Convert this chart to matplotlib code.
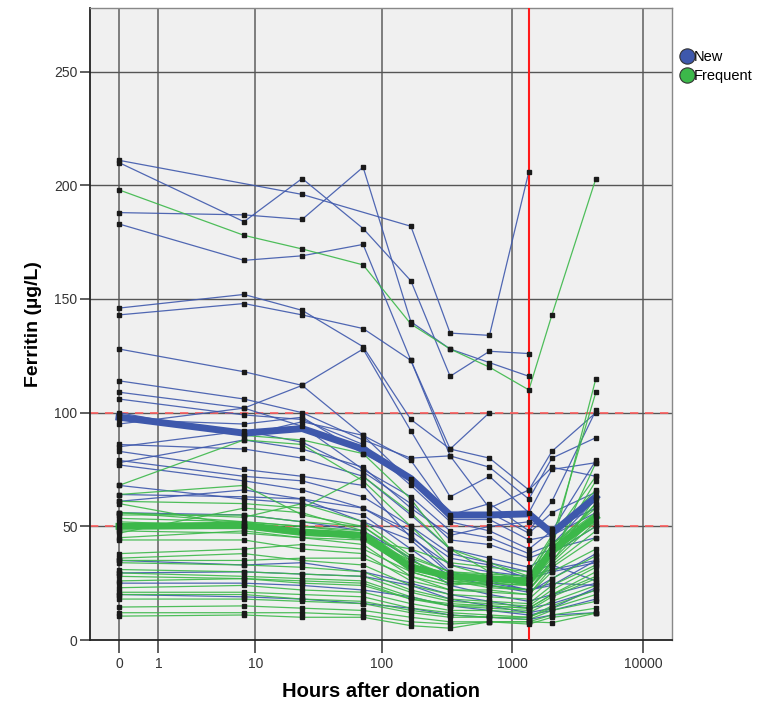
import numpy as np
import matplotlib
matplotlib.use('Agg')
import matplotlib.pyplot as plt
from matplotlib.lines import Line2D

plt.rcParams['font.family'] = ['Liberation Sans', 'DejaVu Sans']

# sampling times (hours after donation)
hours = [0, 8, 24, 72, 168, 336, 672, 1344, 2016, 4368]
nan = np.nan

# new donors (blue), one row per donor
new_donors = [
    [211, nan, 196, nan, 182, 135, 134, 206, nan, nan],
    [210, 184, 203, 181, 158, 116, 127, 126, nan, nan],
    [188, 187, 185, 208, 140, 128, 122, 116, nan, nan],
    [183, 167, 169, 174, 123, 84, 100, nan, nan, nan],
    [146, 152, 145, 129, 97, 84, 80, 66, 83, 100],
    [143, 148, 143, 137, 123, 81, 76, 62, 80, 89],
    [128, 118, 112, 128, 92, 63, 72, 56, 75, 78],
    [114, 106, 100, 88, 80, 81, 58, 66, 76, 72],
    [109, 102, 112, 90, 70, 54, 56, 47, 56, 65],
    [106, 99, 97, 86, 68, 52, 48, 40, 48, 79],
    [100, 90, 96, 90, 79, 55, 60, 48, 61, 101],
    [97, 95, 98, 82, 71, 53, 53, 44, 46, 56],
    [95, 102, 94, 75, 63, 48, 45, 38, 42, 62],
    [86, 84, 80, 72, 55, 40, 36, 32, 38, 50],
    [85, 92, 87, 74, 60, 44, 42, 36, 40, 45],
    [83, 75, 72, 68, 45, 33, 30, 28, 31, 35],
    [79, 72, 70, 63, 50, 38, 34, 30, 33, 26],
    [78, 88, 84, 76, 58, 46, 50, 52, 49, 58],
    [77, 70, 66, 58, 46, 30, 26, 22, 25, 24],
    [68, 62, 60, 55, 40, 28, 24, 21, 27, 38],
    [64, 63, 62, 58, 48, 36, 33, 27, 30, 34],
    [61, 66, 62, 52, 44, 29, 25, 22, 24, 35],
    [56, 55, 52, 48, 36, 24, 20, 17, 20, 25],
    [35, 33, 34, 30, 25, 20, 17, 14, 16, 22],
    [29.5, 30, 29, 28, 24, 18, 15, 12, 14, 23],
    [25, 25, 24, 22, 19, 15, 13, 11, 13, 18],
    [20, 19, 18, 16, 14, 11, 10, 9, 11, 12],
]

# frequent donors (green)
frequent_donors = [
    [198, 178, 172, 165, 139, 128, 120, 110, 143, 203],
    [99, 90, 88, 82, 62, 40, 30, 26, 40, 115],
    [68, 88, 86, 70, 50, 33, 28, 24, 36, 78],
    [61, 60, 58, 72, 56, 40, 34, 28, 44, 109],
    [64, 68, 55, 50, 35, 27, 24, 22, 34, 63],
    [60, 50, 48, 45, 35, 28, 27, 25, 38, 70],
    [56, 52, 50, 47, 32, 26, 23, 22, 35, 54],
    [56, 54, 60, 52, 37, 30, 29, 28, 45, 72],
    [55, 55, 52, 50, 36, 30, 28, 27, 40, 60],
    [53.5, 52, 50, 48, 33, 27, 26, 26, 42, 56],
    [52, 50, 48, 44, 31, 27, 27, 24, 37, 55],
    [50.5, 50, 47, 46, 30, 25, 25, 24, 34, 52],
    [49, 49, 46, 45, 32, 28, 28, 27, 42, 58],
    [48, 47, 45, 44, 40, 34, 32, 30, 46, 66],
    [47, 58, 56, 48, 34, 26, 25, 24, 38, 60],
    [45, 48, 45, 42, 28, 24, 26, 25, 38, 50],
    [44, 44, 40, 38, 26, 22, 22, 20, 32, 45],
    [38, 40, 42, 40, 30, 25, 24, 22, 33, 48],
    [36, 38, 35, 33, 24, 20, 19, 18, 27, 37],
    [35, 35, 36, 36, 28, 22, 21, 20, 30, 40],
    [34, 33, 32, 30, 22, 18, 17, 16, 24, 33],
    [31, 30, 29, 28, 21, 17, 16, 15, 22, 32],
    [29.5, 28, 27, 26, 19, 15, 15, 14, 20, 30],
    [28, 27, 26, 25, 18, 15, 14, 13, 19, 27],
    [26, 27, 25, 24, 18, 16, 15, 14, 20, 28],
    [23, 24, 22, 21, 16, 13, 13, 12, 17, 24],
    [21, 21, 20, 19, 14, 12, 11, 10, 15, 22],
    [20, 20, 18, 17, 13, 11, 10, 10, 14, 20],
    [18, 18, 17, 16, 12, 10, 10, 9, 13, 17],
    [14.5, 15, 14, 13, 10, 8, 8, 8, 11, 14],
    [12, 12, 12, 11, 8, 7, 8, 7, 10, 12],
    [10.5, 11, 10, 10, 6.3, 5.2, 8, 8, 7.6, 11.8],
]

# group means (thick lines)
new_mean = [98, 91, 93, 84, 71, 55, 55, 55.5, 47, 63]
frequent_mean = [50, 50.5, 47.5, 46, 32, 28, 27, 26, 39.5, 54]

groups = ['New', 'Frequent']
blue = '#3e58ac'
green = '#3cb84a'
red = '#ff1a1a'
x_ticks = [0, 1, 10, 100, 1000, 10000]
y_ticks = [0, 50, 100, 150, 200, 250]
cutoffs = [50, 100]
weeks8 = 1344


def fwd(x):
    return np.log10(np.clip(np.asarray(x, dtype=float) + 1, 1e-12, None))


def inv(y):
    return 10 ** np.asarray(y, dtype=float) - 1


fig = plt.figure(figsize=(7.67, 7.05), dpi=100)
ax = fig.add_axes([90 / 767, 1 - 640 / 705, 582 / 767, 632 / 705])
ax.set_facecolor('#f0f0f0')
ax.set_xscale('function', functions=(fwd, inv))
ax.set_xlim(inv(-29 / 131), inv(553 / 131))
ax.set_ylim(0, 278)

# grid
for t in x_ticks:
    ax.axvline(t, color='#6a6a6a', lw=1.2, zorder=1)
for v in y_ticks[1:]:
    ax.axhline(v, color='#555555', lw=1.0, zorder=1)
for c in cutoffs:
    ax.axhline(c, color='#ff6060', lw=1.2, dashes=(5, 4), zorder=1.5)

hrs = np.array(hours)


def draw(series, color):
    for row in series:
        row = np.array(row, dtype=float)
        ok = ~np.isnan(row)
        ax.plot(hrs[ok], row[ok], color=color, lw=0.9, alpha=0.9, zorder=2)


draw(new_donors, blue)
draw(frequent_donors, green)

ax.plot(hrs, frequent_mean, color=green, lw=5, solid_joinstyle='miter', zorder=3)
ax.plot(hrs, new_mean, color=blue, lw=5, solid_joinstyle='miter', zorder=3)

ax.axvline(weeks8, color=red, lw=1.5, zorder=3.5)

for row in new_donors + frequent_donors:
    row = np.array(row, dtype=float)
    ok = ~np.isnan(row)
    ax.plot(hrs[ok], row[ok], ls='none', marker='s', ms=2.5, color='#1a1a1a', zorder=4)

ax.set_xticks(x_ticks)
ax.set_xticklabels([str(t) for t in x_ticks])
ax.xaxis.set_minor_locator(matplotlib.ticker.NullLocator())
ax.set_yticks(y_ticks)
ax.tick_params(axis='x', length=9, width=1.1, color='#333333', labelsize=10, labelcolor='#333333', pad=3)
ax.tick_params(axis='y', length=7, width=1.1, color='#333333', labelsize=10, labelcolor='#333333', pad=2)

for s in ['left', 'bottom']:
    ax.spines[s].set_color('#222222')
    ax.spines[s].set_linewidth(1.3)
for s in ['top', 'right']:
    ax.spines[s].set_color('#888888')
    ax.spines[s].set_linewidth(1.0)

ax.set_xlabel('Hours after donation', fontsize=14.5, fontweight='bold', labelpad=8)
ax.set_ylabel('Ferritin (µg/L)', fontsize=14, fontweight='bold', labelpad=9)

handles = [Line2D([], [], ls='none', marker='o', ms=11, mfc=c, mec='#333333', mew=0.8)
           for c in [blue, green]]
ax.legend(handles, groups, loc='upper left', bbox_to_anchor=(1.0, 0.945), frameon=False,
          handletextpad=0.0, handlelength=1.0, borderaxespad=0.3, labelspacing=0.35,
          fontsize=10.5, borderpad=0.2)

fig.savefig('out.png', dpi=100, facecolor='white')
